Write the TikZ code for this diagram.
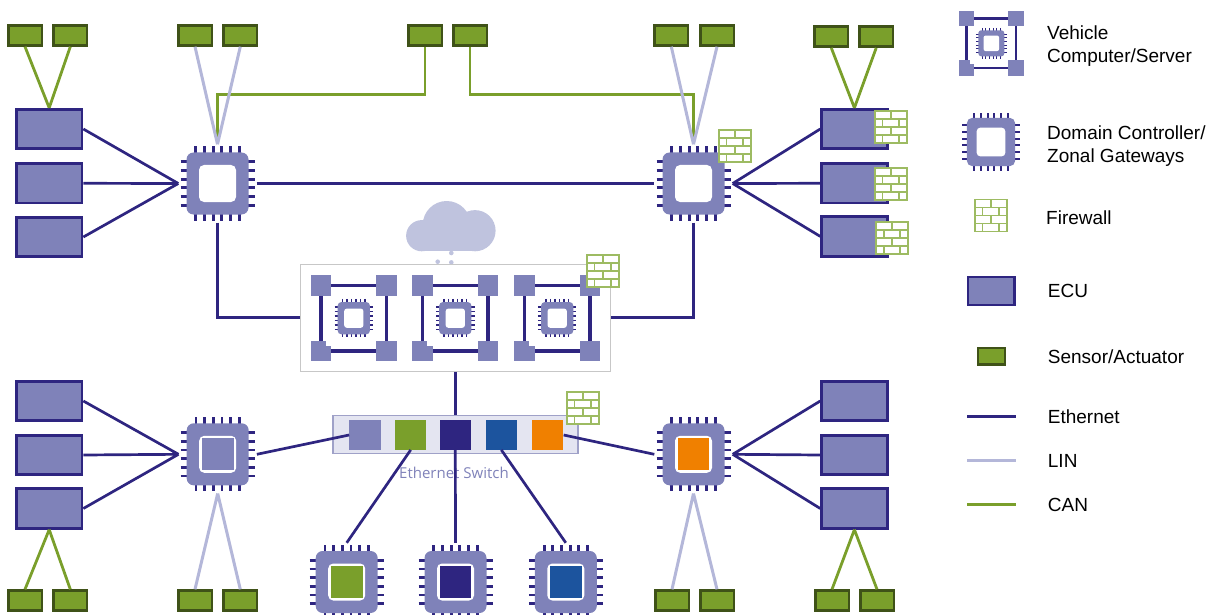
\documentclass[tikz,border=0pt]{standalone}
\usepackage{fontspec}
\setmainfont{Liberation Sans}
\newfontfamily\switchfont{Open Sans}
\usepackage{tikz}
\definecolor{NavyLine}{HTML}{2E2580}
\definecolor{ChipBlue}{HTML}{7F82B9}
\definecolor{LinGray}{HTML}{B4B7D9}
\definecolor{CanGreen}{HTML}{7A9F2B}
\definecolor{DarkGreen}{HTML}{3F5218}
\definecolor{BrickGreen}{HTML}{9DBB62}
\definecolor{CloudBlue}{HTML}{BFC3DE}
\definecolor{PortBlue}{HTML}{1C549E}
\definecolor{PortOrange}{HTML}{F08000}
\definecolor{SwitchFill}{HTML}{E4E5F1}
\definecolor{SwitchEdge}{HTML}{9FA1C8}
\tikzset{
  ethline/.style={draw=NavyLine, line width=2.7pt},
  linline/.style={draw=LinGray, line width=3pt},
  canline/.style={draw=CanGreen, line width=2.8pt},
  ecubox/.style={draw=NavyLine, fill=ChipBlue, line width=2.7pt, minimum width=65.6pt, minimum height=39.6pt, inner sep=0pt},
  sensorbox/.style={draw=DarkGreen, fill=CanGreen, line width=2.5pt, minimum width=33.5pt, minimum height=19.9pt, inner sep=0pt},
  swport/.style={minimum width=31.3pt, minimum height=29.4pt, inner sep=0pt},
  legendtext/.style={anchor=west, align=left, inner sep=0pt, font=\fontsize{19}{23}\selectfont}
}
% name, x, y, colour of the core, scale
\newcommand{\chipicon}[5]{
\begin{scope}[shift={(#2,#3)}, scale=#5]
\foreach \pinpos in {-21.67,-13,-4.33,4.33,13,21.67} {
  \draw[draw=NavyLine, line width=#5*2.8pt] (\pinpos,-37) -- (\pinpos,37);
  \draw[draw=NavyLine, line width=#5*2.8pt] (-37,\pinpos) -- (37,\pinpos);
}
\node[fill=ChipBlue, rounded corners=#5*7pt, minimum size=#5*62pt, inner sep=0pt] (#1body) at (0,0) {};
\node[fill=white, rounded corners=#5*5pt, minimum size=#5*37pt, inner sep=0pt] (#1core) at (0,0) {};
\node[fill=#4, minimum size=#5*31.7pt, inner sep=0pt] (#1fill) at (0,0) {};
\node[minimum size=#5*78pt, inner sep=0pt] (#1) at (0,0) {};
\end{scope}
}
% name, x, y, scale, scale of the chip inside
\newcommand{\servericon}[5]{
\begin{scope}[shift={(#2,#3)}, scale=#4]
\draw[draw=NavyLine, line width=#4*3.5pt] (-32.7,-32.7) rectangle (32.7,32.7);
\foreach \sx in {-32.7,32.7} {
  \foreach \sy in {-32.7,32.7} {
    \fill[ChipBlue] (\sx-10.3,\sy-10.3) rectangle (\sx+10.3,\sy+10.3);
  }
}
\fill[white] (-28,22.4) rectangle (-22.4,27.5);
\end{scope}
\chipicon{#1}{#2}{#3}{white}{#5}
}
% x, y
\newcommand{\firewall}[2]{
\begin{scope}[shift={(#1,#2)}]
\draw[draw=BrickGreen, fill=white, line width=1.8pt] (-16,-16) rectangle (16,16);
\draw[draw=BrickGreen, line width=1.8pt] (-16,-8) -- (16,-8) (-16,0) -- (16,0) (-16,8) -- (16,8)
  (0,-16) -- (0,-8) (0,0) -- (0,8)
  (-8.5,-8) -- (-8.5,0) (8,-8) -- (8,0) (-8.5,8) -- (-8.5,16) (8,8) -- (8,16);
\end{scope}
}
\begin{document}
\begin{tikzpicture}[x=1pt, y=-1pt]
\useasboundingbox (0,0) rectangle (1213,615);

% cloud
\fill[CloudBlue] (421.7,235.7) circle (15.6);
\fill[CloudBlue] (446.7,225) circle (24);
\fill[CloudBlue] (475,230.7) circle (20.6);
\fill[CloudBlue] (421.7,230) rectangle (475,251.2);
\fill[CloudBlue] (451.3,253) circle (2.3);
\fill[CloudBlue] (437.7,261.7) circle (2.3);
\fill[CloudBlue] (451.3,262.4) circle (2.3);

% vehicle computers
\node[draw=black!22, fill=white, line width=1pt, minimum width=310pt, minimum height=107pt, inner sep=0pt] (server) at (455.3,317.8) {};
\servericon{vca}{353.8}{318.2}{1}{.52}
\servericon{vcb}{455.3}{318.2}{1}{.52}
\servericon{vcc}{557.2}{318.2}{1}{.52}

% switch
\node[draw=SwitchEdge, fill=SwitchFill, line width=1.5pt, minimum width=245pt, minimum height=37.6pt, inner sep=0pt] (switch) at (455.3,434.5) {};
\node[swport, fill=ChipBlue] (swa) at (365,435) {};
\node[swport, fill=CanGreen] (swb) at (410.7,435) {};
\node[swport, fill=NavyLine] (swc) at (455.3,435) {};
\node[swport, fill=PortBlue] (swd) at (501.3,435) {};
\node[swport, fill=PortOrange] (swe) at (547.8,435) {};
\node[inner sep=0pt, text=ChipBlue, font=\switchfont\fontsize{15}{18}\selectfont] (swlabel) at (454,473) {Ethernet Switch};

% chips
\chipicon{dca}{217.5}{183.5}{white}{1}
\chipicon{dcb}{693.5}{183.5}{white}{1}
\chipicon{dcc}{217.7}{454.3}{ChipBlue}{1}
\chipicon{dcd}{693.5}{454.3}{PortOrange}{1}
\chipicon{dce}{346.7}{582}{CanGreen}{1}
\chipicon{dcf}{455.5}{582}{NavyLine}{1}
\chipicon{dcg}{565.8}{582}{PortBlue}{1}

% ECUs
\node[ecubox] (ecua) at (49.2,129) {};
\node[ecubox] (ecub) at (49.2,183.3) {};
\node[ecubox] (ecuc) at (49.2,237) {};
\node[ecubox] (ecud) at (854.4,129) {};
\node[ecubox] (ecue) at (854.4,183.3) {};
\node[ecubox] (ecuf) at (854.4,236.4) {};
\node[ecubox] (ecug) at (49.2,401) {};
\node[ecubox] (ecuh) at (49.2,455) {};
\node[ecubox] (ecui) at (49.2,508.5) {};
\node[ecubox] (ecuj) at (854.4,401) {};
\node[ecubox] (ecuk) at (854.4,455) {};
\node[ecubox] (ecul) at (854.4,508.5) {};

% sensors, top row
\node[sensorbox] (sena) at (25,35.5) {};
\node[sensorbox] (senb) at (70.3,35.5) {};
\node[sensorbox] (senc) at (195,35.5) {};
\node[sensorbox] (send) at (240.3,35.5) {};
\node[sensorbox] (sene) at (425,35.5) {};
\node[sensorbox] (senf) at (470,35.5) {};
\node[sensorbox] (seng) at (671.3,35.5) {};
\node[sensorbox] (senh) at (717,35.5) {};
\node[sensorbox] (seni) at (831.3,36.7) {};
\node[sensorbox] (senj) at (876.2,36.7) {};
% sensors, bottom row
\node[sensorbox] (senk) at (25,600.5) {};
\node[sensorbox] (senl) at (70.3,600.5) {};
\node[sensorbox] (senm) at (195,600.5) {};
\node[sensorbox] (senn) at (240.3,600.5) {};
\node[sensorbox] (seno) at (672,600.5) {};
\node[sensorbox] (senp) at (717,600.5) {};
\node[sensorbox] (senq) at (832,600.5) {};
\node[sensorbox] (senr) at (877,600.5) {};

% Ethernet
\draw[ethline] (ecua.east) -- (dca.west) (ecub.east) -- (dca.west) (ecuc.east) -- (dca.west);
\draw[ethline] (ecud.west) -- (dcb.east) (ecue.west) -- (dcb.east) (ecuf.west) -- (dcb.east);
\draw[ethline] (ecug.east) -- (dcc.west) (ecuh.east) -- (dcc.west) (ecui.east) -- (dcc.west);
\draw[ethline] (ecuj.west) -- (dcd.east) (ecuk.west) -- (dcd.east) (ecul.west) -- (dcd.east);
\draw[ethline] (dca.east) -- (dcb.west);
\draw[ethline] (dca.south) |- (server.west);
\draw[ethline] (dcb.south) |- (server.east);
\draw[ethline] (server.south) -- (switch.north);
\draw[ethline] (swa.west) -- (dcc.east);
\draw[ethline] (swe.east) -- (dcd.west);
\draw[ethline] (swb.south) -- (dce.north);
\draw[ethline] (swc.south) -- (dcf.north);
\draw[ethline] (swd.south) -- (dcg.north);

% CAN
\coordinate (canleft) at (217.5,94.7);
\coordinate (canright) at (693.5,94.7);
\draw[canline] (sene.south) |- (canleft) -- (dca.north);
\draw[canline] (senf.south) |- (canright) -- (dcb.north);
\draw[canline] (sena.south) -- (ecua.north) (senb.south) -- (ecua.north);
\draw[canline] (seni.south) -- (ecud.north) (senj.south) -- (ecud.north);
\draw[canline] (ecui.south) -- (senk.north) (ecui.south) -- (senl.north);
\draw[canline] (ecul.south) -- (senq.north) (ecul.south) -- (senr.north);

% LIN
\draw[linline] (senc.south) -- (dca.north) (send.south) -- (dca.north);
\draw[linline] (seng.south) -- (dcb.north) (senh.south) -- (dcb.north);
\draw[linline] (dcc.south) -- (senm.north) (dcc.south) -- (senn.north);
\draw[linline] (dcd.south) -- (seno.north) (dcd.south) -- (senp.north);

% firewalls
\firewall{735}{146}
\firewall{891}{127.3}
\firewall{891}{184.3}
\firewall{892.3}{237.7}
\firewall{603}{271.3}
\firewall{583}{407.7}

% legend
\servericon{legvc}{991.3}{43.3}{.755}{.42}
\chipicon{legdc}{991}{142}{white}{.78}
\firewall{991}{215.5}
\node[ecubox, minimum width=46.6pt, minimum height=28pt] (legecu) at (991.3,291) {};
\node[sensorbox, minimum width=26.8pt, minimum height=16.6pt] (legsen) at (991.6,356.2) {};
\coordinate (legetha) at (967,416.7);
\coordinate (legethb) at (1016,416.7);
\coordinate (leglina) at (967,460.7);
\coordinate (leglinb) at (1016,460.7);
\coordinate (legcana) at (967,504.3);
\coordinate (legcanb) at (1016,504.3);
\draw[ethline] (legetha) -- (legethb);
\draw[linline] (leglina) -- (leglinb);
\draw[canline] (legcana) -- (legcanb);
\node[legendtext] (txtvc) at (1047,46) {Vehicle\\Computer/Server};
\node[legendtext] (txtdc) at (1047,146) {Domain Controller/\\Zonal Gateways};
\node[legendtext] (txtfw) at (1046,218) {Firewall};
\node[legendtext] (txtecu) at (1047.7,291) {ECU};
\node[legendtext] (txtsen) at (1047.7,357) {Sensor/Actuator};
\node[legendtext] (txteth) at (1047.7,417) {Ethernet};
\node[legendtext] (txtlin) at (1047.7,461) {LIN};
\node[legendtext] (txtcan) at (1047.7,505) {CAN};
\end{tikzpicture}
\end{document}
